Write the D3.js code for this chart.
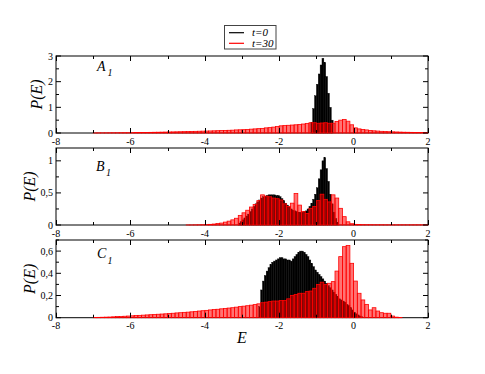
<!DOCTYPE html>
<html><head><meta charset="utf-8">
<script src="https://cdn.jsdelivr.net/npm/d3@7"></script>
<style>
body{margin:0;background:#fff}
svg{display:block}
</style>
</head><body>
<svg id="chart" width="485" height="374" font-family="'Liberation Serif', 'DejaVu Serif', serif"></svg>
<script>
// ---------- data ----------
const xTickLabels = [-8, -6, -4, -2, 0, 2];
const seriesNames = ["t=0", "t=30"];
const panelNames = ["A", "B", "C"];
const yTicksA = [0, 1, 2, 3];
const yTicksB = [0, 0.5, 1];
const yTicksC = [0, 0.2, 0.4, 0.6];

// red (t=30) histograms: bins of width 0.1, first bin starts at E = -7.0
const redStart = -7.0, redWidth = 0.1;
const redA = [
  0.004,0.005,0.006,0.007,0.008,0.009,0.010,0.011,0.012,0.013,
  0.015,0.017,0.019,0.021,0.023,0.025,0.028,0.030,0.033,0.036,
  0.040,0.043,0.046,0.050,0.053,0.057,0.060,0.064,0.068,0.072,
  0.076,0.080,0.085,0.090,0.095,0.100,0.105,0.110,0.120,0.125,
  0.130,0.140,0.150,0.160,0.170,0.180,0.200,0.210,0.230,0.250,
  0.280,0.290,0.300,0.310,0.320,0.330,0.350,0.370,0.400,0.400,
  0.380,0.390,0.400,0.380,0.380,0.450,0.500,0.530,0.460,0.320,
  0.200,0.160,0.140,0.120,0.100,0.085,0.075,0.065,0.055,0.050,
  0.045,0.040,0.035,0.030,0.028,0.025,0.022,0.020,0.018,0.016
];
const redB = [
  0,0,0,0,0,0,0,0,0,0,
  0,0,0,0,0,0,0,0,0,0,
  0,0,0,0,0,0.001,0.001,0.002,0.003,0.004,
  0.006,0.010,0.015,0.022,0.030,0.045,0.060,0.080,0.105,0.150,
  0.190,0.230,0.280,0.320,0.380,0.470,0.450,0.440,0.420,0.410,
  0.390,0.330,0.290,0.340,0.490,0.310,0.210,0.180,0.260,0.290,
  0.380,0.480,0.400,0.360,0.470,0.420,0.260,0.130,0.050,0.020,
  0.010,0.007,0.006,0.005,0.005,0.004,0.004,0.004,0.003,0.003,
  0.003,0.003,0.003,0.003,0.003,0.003,0.003,0.003,0.003,0.003
];
const redC = [
  0.002,0.003,0.004,0.005,0.006,0.008,0.010,0.011,0.013,0.015,
  0.017,0.019,0.021,0.023,0.025,0.027,0.029,0.031,0.033,0.035,
  0.038,0.040,0.043,0.045,0.048,0.050,0.053,0.056,0.060,0.063,
  0.066,0.070,0.073,0.076,0.080,0.083,0.087,0.090,0.095,0.100,
  0.104,0.108,0.113,0.118,0.125,0.135,0.140,0.145,0.150,0.150,
  0.155,0.155,0.170,0.200,0.210,0.220,0.220,0.235,0.240,0.265,
  0.300,0.320,0.300,0.310,0.325,0.420,0.550,0.640,0.650,0.490,
  0.330,0.220,0.160,0.120,0.070,0.090,0.060,0.045,0.040,0.040,
  0.015,0.005,0.002,0,0,0,0,0,0,0
];

// black (t=0) histograms: bins of width 0.05
const blackWidth = 0.05;
const blackStartA = -1.15;
const blackA = [0.40,0.95,1.45,1.90,2.30,2.65,2.91,2.75,2.20,1.55,1.00,0.50];
const blackStartB = -3.10;
const blackB = [
  0.03,0.05,0.08,0.11,0.14,0.17,0.21,0.25,0.29,0.33,
  0.36,0.39,0.42,0.44,0.45,0.46,0.47,0.47,0.47,0.47,
  0.46,0.46,0.44,0.41,0.38,0.34,0.31,0.28,0.25,0.23,
  0.22,0.21,0.20,0.20,0.20,0.21,0.22,0.25,0.29,0.34,
  0.40,0.48,0.58,0.72,0.86,1.00,1.05,0.88,0.68,0.48,
  0.33,0.20,0.10,0.04
];
const blackStartC = -2.55;
const blackC = [
  0.10,0.25,0.33,0.38,0.42,0.45,0.48,0.50,0.51,0.52,
  0.53,0.54,0.54,0.53,0.53,0.52,0.52,0.51,0.53,0.55,
  0.57,0.59,0.60,0.60,0.59,0.57,0.55,0.52,0.49,0.46,
  0.43,0.41,0.39,0.37,0.35,0.33,0.31,0.29,0.27,0.25,
  0.23,0.21,0.19,0.17,0.16,0.15,0.14,0.12,0.11,0.09,
  0.07,0.05,0.035,0.025,0.015,0.008
];

// ---------- layout ----------
const svg = d3.select("#chart");
const left = 56, right = 428;
const x = d3.scaleLinear().domain([-8, 2]).range([left, right]);

const panels = [
  {name: panelNames[0], top: 56, bottom: 133, ymax: 3, ticks: yTicksA, minor: 0.5,
   red: redA, black: blackA, blackStart: blackStartA,
   lab: [97, 71, 107.5, 75.5], pe: 36},
  {name: panelNames[1], top: 148, bottom: 225, ymax: 1.2, ticks: yTicksB, minor: 0.25,
   red: redB, black: blackB, blackStart: blackStartB,
   lab: [96, 171, 106, 176], pe: 29},
  {name: panelNames[2], top: 240, bottom: 317.7, ymax: 0.7, ticks: yTicksC, minor: 0.1,
   red: redC, black: blackC, blackStart: blackStartC,
   lab: [97, 258.3, 107.5, 264], pe: 29}
];

const fmt = v => String(v).replace(".", ",");
const FONT = "'Liberation Serif', 'DejaVu Serif', serif";

panels.forEach(p => {
  const y = d3.scaleLinear().domain([0, p.ymax]).range([p.bottom, p.top]);
  const g = svg.append("g");

  // frame
  g.append("rect").attr("x", left).attr("y", p.top)
    .attr("width", right - left).attr("height", p.bottom - p.top)
    .attr("fill", "none").attr("stroke", "#000").attr("stroke-width", 1);

  // black bars (t=0)
  const bData = p.black.map((v, i) => ({e: p.blackStart + i * blackWidth, v}));
  g.append("g").selectAll("rect").data(bData).join("rect")
    .attr("x", d => x(d.e)).attr("width", d => x(d.e + blackWidth) - x(d.e))
    .attr("y", d => y(d.v)).attr("height", d => y(0) - y(d.v))
    .attr("fill", "#000").attr("stroke", "#000").attr("stroke-width", 0.4);

  // red bars (t=30)
  const rData = p.red.map((v, i) => ({e: redStart + i * redWidth, v})).filter(d => d.v > 0);
  g.append("g").selectAll("rect").data(rData).join("rect")
    .attr("x", d => x(d.e)).attr("width", d => x(d.e + redWidth) - x(d.e))
    .attr("y", d => y(d.v)).attr("height", d => y(0) - y(d.v))
    .attr("fill", "rgba(255,0,0,0.55)").attr("stroke", "#ff0000").attr("stroke-width", 0.8);

  // x ticks (inward, bottom and top)
  const xMajor = xTickLabels;
  const xMinor = d3.range(-7, 2, 2);
  const tk = g.append("g").attr("stroke", "#000").attr("stroke-width", 1);
  xMajor.concat(xMinor).forEach(v => {
    const len = xMajor.includes(v) ? 5 : 3;
    const xx = Math.round(x(v)) + 0.5;
    tk.append("line").attr("x1", xx).attr("x2", xx).attr("y1", p.bottom).attr("y2", p.bottom - len);
    tk.append("line").attr("x1", xx).attr("x2", xx).attr("y1", p.top).attr("y2", p.top + len);
  });
  // y ticks (inward, left and right)
  const yMinor = d3.range(0, p.ymax + 1e-9, p.minor).filter(v => !p.ticks.some(t => Math.abs(t - v) < 1e-9));
  p.ticks.concat(yMinor).forEach(v => {
    const len = p.ticks.includes(v) ? 5 : 3;
    const yy = y(v);
    tk.append("line").attr("x1", left).attr("x2", left + len).attr("y1", yy).attr("y2", yy);
    tk.append("line").attr("x1", right).attr("x2", right - len).attr("y1", yy).attr("y2", yy);
  });

  // tick labels
  g.append("g").selectAll("text").data(xMajor).join("text")
    .attr("font-family", FONT)
    .attr("x", d => x(d)).attr("y", p.bottom + 11.5)
    .attr("text-anchor", "middle").attr("font-size", 10)
    .text(d => String(d));
  g.append("g").selectAll("text").data(p.ticks).join("text")
    .attr("font-family", FONT)
    .attr("x", left - 3).attr("y", d => y(d) + 3.5)
    .attr("text-anchor", "end").attr("font-size", 10)
    .text(d => fmt(d));

  // panel label
  g.append("text").attr("font-family", FONT).attr("x", p.lab[0]).attr("y", p.lab[1])
    .attr("font-size", 14).attr("font-style", "italic").text(p.name);
  g.append("text").attr("font-family", FONT).attr("x", p.lab[2]).attr("y", p.lab[3])
    .attr("font-size", 10).attr("font-style", "italic").text("1");

  // y axis title
  const cy = (p.top + p.bottom) / 2;
  g.append("text").attr("font-family", FONT)
    .attr("transform", `translate(${p.pe},${cy}) rotate(-90)`)
    .attr("text-anchor", "middle").attr("dominant-baseline", "central")
    .attr("font-size", 16).attr("font-style", "italic").text("P(E)");
});

// x axis title
svg.append("text").attr("font-family", FONT).attr("x", 242).attr("y", 343)
  .attr("text-anchor", "middle").attr("font-size", 16).attr("font-style", "italic").text("E");

// legend
const lg = svg.append("g");
lg.append("rect").attr("x", 224.5).attr("y", 25.5).attr("width", 51.5).attr("height", 23.5)
  .attr("fill", "#fff").attr("stroke", "#444").attr("stroke-width", 1);
const legColors = ["#000", "#ff0000"];
seriesNames.forEach((s, i) => {
  const yy = 32.7 + i * 10.6;
  lg.append("line").attr("x1", 229).attr("x2", 244).attr("y1", yy).attr("y2", yy)
    .attr("stroke", legColors[i]).attr("stroke-width", 1.2);
  lg.append("text").attr("font-family", FONT).attr("x", 252).attr("y", yy + 3.5)
    .attr("font-size", 11).attr("font-style", "italic").text(s);
});
</script>
</body></html>
